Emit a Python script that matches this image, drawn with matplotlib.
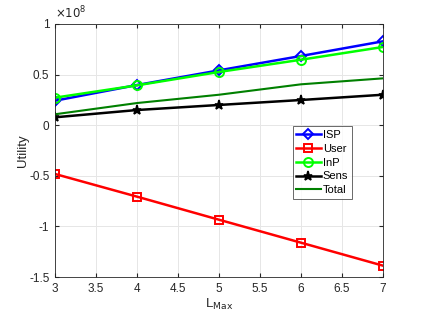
import matplotlib
matplotlib.use('Agg')
import matplotlib.pyplot as plt
import numpy as np

plt.rcParams['font.family'] = ['Liberation Sans', 'DejaVu Sans']
plt.rcParams['font.size'] = 8.5

# values in units of 1e8
l_max = [3, 4, 5, 6, 7]
isp = [0.242, 0.397, 0.542, 0.684, 0.829]
user = [-0.482, -0.706, -0.934, -1.161, -1.388]
inp = [0.272, 0.394, 0.526, 0.647, 0.773]
sens = [0.078, 0.150, 0.200, 0.249, 0.301]
total = [0.108, 0.219, 0.301, 0.404, 0.463]

scale = 1e8

fig = plt.figure(figsize=(4.23, 3.17), dpi=100)
ax = fig.add_axes([55/423, 1 - 277/317, 328/423, 253/317])

dark = '#262626'
ax.plot(l_max, np.array(isp) * scale, color='#0000ff', lw=1.8, marker='D', ms=5.5,
        mfc='none', mew=1.4, label='ISP')
ax.plot(l_max, np.array(user) * scale, color='#ff0000', lw=1.8, marker='s', ms=6,
        mfc='none', mew=1.4, label='User')
ax.plot(l_max, np.array(inp) * scale, color='#00ff00', lw=1.8, marker='o', ms=6.5,
        mfc='none', mew=1.4, label='InP')
ax.plot(l_max, np.array(sens) * scale, color='black', lw=1.8, marker='*', ms=6.5,
        mew=1.2, label='Sens')
ax.plot(l_max, np.array(total) * scale, color='#008000', lw=1.5, label='Total')

ax.set_xlim(3, 7)
ax.set_ylim(-1.5e8, 1e8)
ax.set_xticks(np.arange(3, 7.01, 0.5))
ax.set_xticklabels(['3', '3.5', '4', '4.5', '5', '5.5', '6', '6.5', '7'])
ax.set_yticks(np.arange(-1.5e8, 1.01e8, 0.5e8))
ax.set_yticklabels(['-1.5', '-1', '-0.5', '0', '0.5', '1'])
ax.grid(True, color='#e6e6e6', lw=0.7)
ax.set_axisbelow(True)
ax.tick_params(direction='in', colors=dark, length=3, top=True, right=True,
               labelsize=8.5, pad=4)
for s in ax.spines.values():
    s.set_color(dark)
    s.set_linewidth(0.6)

ax.text(0.0, 1.01, r'$\times10^{8}$', transform=ax.transAxes, fontsize=8.5,
        color=dark, ha='left', va='bottom')

ax.set_xlabel(r'L$_{\mathrm{Max}}$', fontsize=9.5, color=dark, labelpad=2)
ax.set_ylabel('Utility', fontsize=9.5, color=dark, labelpad=0)

leg = ax.legend(loc='upper left', bbox_to_anchor=(0.725, 0.595), fontsize=8,
                frameon=True, fancybox=False, edgecolor=dark,
                handlelength=2.2, handletextpad=0.2, borderpad=0.3,
                labelspacing=0.35, borderaxespad=0)
leg.get_frame().set_linewidth(0.6)

fig.savefig('out.png', dpi=100)
